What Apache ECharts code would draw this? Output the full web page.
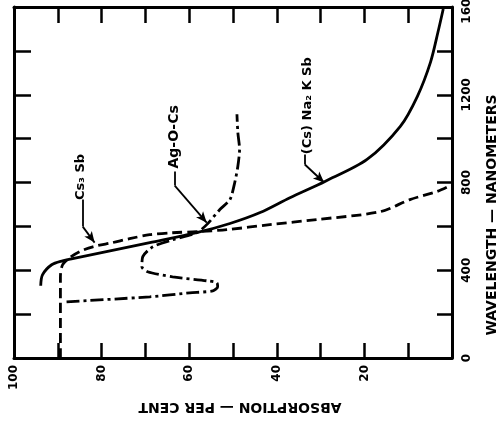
<!DOCTYPE html>
<html>
<head>
<meta charset="utf-8">
<script src="https://cdn.jsdelivr.net/npm/echarts@6/dist/echarts.min.js"></script>
<style>
html,body{margin:0;padding:0;background:#fff;}
#c{width:499px;height:425px;}
</style>
</head>
<body>
<div id="c"></div>
<script>
// ---- data: [absorption %, wavelength nm] ----
const absorptionLabels = [100, 80, 60, 40, 20, 0];
const wavelengthLabels = [0, 400, 800, 1200, 1600];

const seriesNames = ['(Cs) Na₂ K Sb', 'Cs₃ Sb', 'Ag-O-Cs'];

const csNa2KSb = [[93.9,329],[93.5,379],[91.4,425],[88.9,443],[86.6,453],[69.0,526],[58.3,571],[50.7,613],[43.8,663],[37.0,731],[29.0,805],[19.4,905],[11.8,1056],[7.9,1193],[4.9,1349],[3.2,1486],[2.0,1591]];

const cs3Sb = [[89.4,0],[89.4,265],[89.4,370],[88.9,425],[87.3,457],[85.0,485],[82.0,507],[77.5,526],[73.6,544],[69.0,562],[63.8,571],[58.3,576],[51.4,585],[41.6,608],[30.9,631],[16.4,667],[9.6,722],[3.4,759],[0.4,786]];

const agOCs = [[88.0,256],[69.0,279],[59.9,297],[54.6,306],[53.5,325],[53.7,343],[56.0,352],[63.8,370],[69.5,393],[70.8,416],[70.6,462],[68.3,507],[63.8,539],[58.3,571],[56.0,608],[53.0,677],[50.7,722],[49.6,800],[48.9,873],[48.5,951],[48.9,1029],[49.1,1111]];

// annotation text anchors and leader lines (data units)
const labelAnchors = [[32.9,1150],[84.8,825],[63.3,1008]];
const leaderCsNa2KSb = [[33.6,928],[33.6,882],[29.2,800]];
const leaderCs3Sb = [[84.3,722],[84.3,599],[81.6,526]];
const leaderAgOCs = [[63.3,850],[63.3,786],[56.0,617]];

const FONT = 'DejaVu Sans';
const chart = echarts.init(document.getElementById('c'), null, {renderer:'canvas'});

function leader(pts){
  return {
    silent: true,
    symbol: ['none','none'],
    label: {show:false},
    lineStyle: {type:'solid', color:'#000', width:1.8},
    emphasis: {disabled:true},
    data: [
      [{coord: pts[0]}, {coord: pts[1]}],
      [{coord: pts[1], symbol:'none'}, {coord: pts[2], symbol:'arrow', symbolSize:[7,11]}]
    ]
  };
}

const axisLineStyle = {color:'#000', width:3};
const tickStyle = {color:'#000', width:2.5};

chart.setOption({
  animation: false,
  backgroundColor: '#fff',
  grid: {left: 14, right: 47, top: 7, bottom: 67, containLabel: false, outerBoundsMode: 'none'},
  xAxis: [
    {
      type:'value', position:'bottom', min:0, max:100, interval:10, inverse:true,
      axisLine:{show:true, onZero:false, lineStyle:axisLineStyle},
      axisTick:{show:true, inside:true, length:15, lineStyle:tickStyle},
      splitLine:{show:false},
      axisLabel:{
        show:true, rotate:90, margin:7, color:'#000',
        fontFamily:FONT, fontWeight:'bold', fontSize:12,
        formatter: v => (absorptionLabels.includes(v) && v !== 0) ? String(v) : ''
      }
    },
    {
      type:'value', position:'top', min:0, max:100, interval:10, inverse:true,
      axisLine:{show:true, onZero:false, lineStyle:axisLineStyle},
      axisTick:{show:true, inside:true, length:16, lineStyle:tickStyle},
      splitLine:{show:false}, axisLabel:{show:false}
    }
  ],
  yAxis: [
    {
      type:'value', position:'right', min:0, max:1600, interval:200,
      axisLine:{show:true, onZero:false, lineStyle:axisLineStyle},
      axisTick:{show:true, inside:true, length:15, lineStyle:tickStyle},
      splitLine:{show:false},
      axisLabel:{
        show:true, rotate:90, margin:9, color:'#000',
        fontFamily:FONT, fontWeight:'bold', fontSize:12,
        formatter: v => wavelengthLabels.includes(v) ? String(v) : ''
      }
    },
    {
      type:'value', position:'left', min:0, max:1600, interval:200,
      axisLine:{show:true, onZero:false, lineStyle:axisLineStyle},
      axisTick:{show:true, inside:true, length:17, lineStyle:tickStyle},
      splitLine:{show:false}, axisLabel:{show:false}
    }
  ],
  series: [
    {
      name: seriesNames[0], type:'line', xAxisIndex:0, yAxisIndex:0,
      data: csNa2KSb, showSymbol:false, symbol:'none', smooth:0.3,
      lineStyle:{color:'#000', width:2.8, type:'solid'},
      markLine: leader(leaderCsNa2KSb)
    },
    {
      name: seriesNames[1], type:'line', xAxisIndex:0, yAxisIndex:0,
      data: cs3Sb, showSymbol:false, symbol:'none', smooth:0.3,
      lineStyle:{color:'#000', width:2.8, type:[10,5]},
      markLine: leader(leaderCs3Sb)
    },
    {
      name: seriesNames[2], type:'line', xAxisIndex:0, yAxisIndex:0,
      data: agOCs, showSymbol:false, symbol:'none', smooth:0.25,
      lineStyle:{color:'#000', width:2.8, type:[13,4,3,4]},
      markLine: leader(leaderAgOCs)
    }
  ]
});

// text annotations placed through the chart's own coordinate conversion
const labelSizes = [13, 13, 14];
const graphics = [];
seriesNames.forEach((name, i) => {
  const p = chart.convertToPixel({xAxisIndex:0, yAxisIndex:0}, labelAnchors[i]);
  graphics.push({
    type:'text', x:p[0], y:p[1], rotation:Math.PI/2, silent:true,
    style:{text:name, fill:'#000', font:'bold ' + labelSizes[i] + 'px "' + FONT + '"', align:'center', verticalAlign:'middle'}
  });
});
const gw = chart.getWidth();
// axis titles
graphics.push({
  type:'text', x: 240, y: 407, rotation: Math.PI, silent:true,
  style:{text:'ABSORPTION — PER CENT', fill:'#000', font:'bold 14px "' + FONT + '"', align:'center', verticalAlign:'middle'}
});
graphics.push({
  type:'text', x: gw - 7, y: 215, rotation: Math.PI/2, silent:true,
  style:{text:'WAVELENGTH — NANOMETERS', fill:'#000', font:'bold 14px "' + FONT + '"', align:'center', verticalAlign:'middle'}
});
chart.setOption({graphic: graphics});
</script>
</body>
</html>
